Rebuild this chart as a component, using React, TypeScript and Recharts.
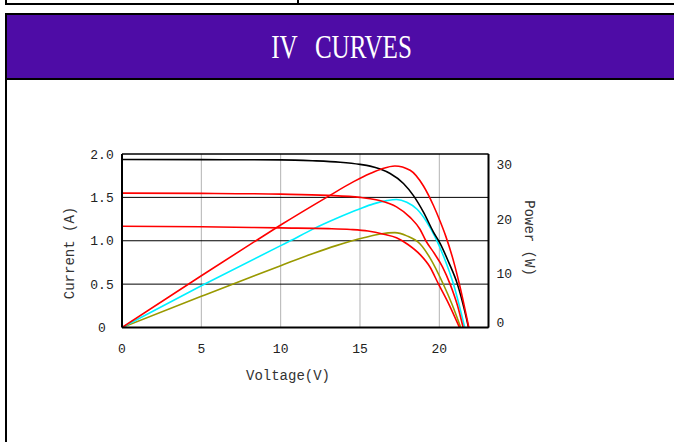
import React from "react";
import {
  CartesianGrid,
  Line,
  LineChart,
  ReferenceLine,
  XAxis,
  YAxis,
} from "recharts";

// [voltage (V), current (A)]
const ivHigh = [
  [0, 1.937], [5, 1.935], [10, 1.932], [12, 1.922], [13.75, 1.905], [15, 1.88],
  [15.64, 1.86], [16.27, 1.826], [16.9, 1.775], [17.74, 1.66], [18.37, 1.52],
  [19.0, 1.33], [19.63, 1.1], [20.05, 0.97], [20.58, 0.756], [21.14, 0.5],
  [21.56, 0.22], [21.84, 0],
];
const ivMid = [
  [0, 1.549], [5, 1.546], [10, 1.537], [12.95, 1.523], [15, 1.5], [15.64, 1.485],
  [16.3, 1.46], [17.3, 1.39], [18.16, 1.27], [18.79, 1.13], [19.15, 1.0], [19.7, 0.85],
  [20.2, 0.7], [20.68, 0.5], [21.15, 0.25], [21.5, 0],
];
const ivLow = [
  [0, 1.167], [5, 1.162], [10, 1.148], [13, 1.14], [14.4, 1.13], [15.5, 1.112],
  [16.5, 1.075], [17.3, 1.035], [18, 0.96], [18.79, 0.84], [19.4, 0.7], [19.95, 0.5],
  [20.6, 0.27], [21.27, 0],
];

// [voltage (V), power (W)]
const pwHigh = [
  [0, 0], [5, 9.55], [8.49, 16.1], [10, 18.9], [12.95, 24.1], [14.6, 26.9],
  [15.64, 28.4], [16.4, 29.3], [17.2, 29.8], [18.16, 29.0], [19.0, 26.1], [19.63, 22.5],
  [20.05, 19.6], [20.4, 16.9], [20.9, 12.2], [21.27, 7.93], [21.86, 0],
];
const pwMid = [
  [0, 0], [5, 7.7], [10, 15.1], [10.55, 15.9], [12, 18.1], [13.5, 20.1], [14.4, 21.2],
  [15, 21.9], [15.85, 22.8], [16.7, 23.4], [17.3, 23.6], [17.95, 23.1], [18.6, 21.8],
  [19.2, 19.5], [19.7, 16.9], [20.3, 12.9], [20.9, 7.93], [21.6, 0],
];
const pwLow = [
  [0, 0], [5, 5.75], [10, 11.4], [12, 13.6], [13.5, 15.1], [14.4, 15.9], [15.3, 16.6],
  [16.27, 17.25], [17.2, 17.5], [17.95, 16.9], [18.79, 15.4], [19.42, 12.8],
  [20.26, 7.93], [20.8, 4.3], [21.35, 0],
];

const voltTicks = [0, 5, 10, 15, 20];
const currentTicks = [0, 0.5, 1, 1.5, 2];
const powerTicks = [0, 10, 20, 30];

const W = 674;
const H = 442;
const PLOT_LEFT = 122;
const PLOT_RIGHT = 488.5;
const PLOT_TOP = 154;
const PLOT_BOTTOM = 327.5;
const Y_W = 40;
const X_H = 30;

const MONO = "'Liberation Mono', 'DejaVu Sans Mono', monospace";

const pts = (arr: number[][]) => arr.map(([v, y]) => ({ v, y }));

const fmtCurrent = (n: number) => (n === 0 ? "0" : n.toFixed(1));

const LeftTick = (p: any) => (
  <text
    x={PLOT_LEFT - 20}
    y={p.y}
    dy={4.5}
    textAnchor="middle"
    fontFamily={MONO}
    fontSize={13}
    fill="#222"
  >
    {fmtCurrent(p.payload.value)}
  </text>
);

const RightTick = (p: any) => (
  <text
    x={PLOT_RIGHT + 8}
    y={p.y}
    dy={p.payload.value === 0 ? -0.5 : 4.5}
    textAnchor="start"
    fontFamily={MONO}
    fontSize={13}
    fill="#222"
  >
    {p.payload.value}
  </text>
);

const BottomTick = (p: any) => (
  <text
    x={p.x}
    y={PLOT_BOTTOM + 25}
    textAnchor="middle"
    fontFamily={MONO}
    fontSize={13}
    fill="#222"
  >
    {p.payload.value}
  </text>
);

const axisTitle: React.CSSProperties = {
  position: "absolute",
  width: 140,
  height: 20,
  lineHeight: "20px",
  textAlign: "center",
  fontFamily: MONO,
  fontSize: 14,
  color: "#333",
  whiteSpace: "nowrap",
};

export default function App() {
  const lineProps = {
    type: "monotone" as const,
    dataKey: "y",
    dot: false,
    isAnimationActive: false,
    strokeWidth: 1.6,
  };

  return (
    <div
      style={{
        position: "absolute",
        left: 0,
        top: 0,
        width: W,
        height: H,
        overflow: "hidden",
        background: "#fff",
      }}
    >
      {/* row above */}
      <div
        style={{
          position: "absolute",
          left: 5,
          top: -30,
          width: 800,
          height: 35,
          boxSizing: "border-box",
          border: "2px solid #000",
        }}
      />
      <div style={{ position: "absolute", left: 297, top: 0, width: 2, height: 4, background: "#000" }} />

      {/* header */}
      <div
        style={{
          position: "absolute",
          left: 5,
          top: 13,
          width: 800,
          height: 67,
          boxSizing: "border-box",
          border: "2px solid #000",
          background: "#4e0ca6",
        }}
      />
      <div
        style={{
          position: "absolute",
          left: 242,
          top: 27,
          width: 200,
          height: 40,
          lineHeight: "40px",
          textAlign: "center",
          color: "#fff",
          fontFamily: "'Liberation Serif', serif",
          fontSize: 33,
        }}
      >
        <span style={{ display: "inline-block", transform: "scaleX(0.76)", wordSpacing: 15 }}>
          IV CURVES
        </span>
      </div>
      <div style={{ position: "absolute", left: 5, top: 80, width: 2, height: 400, background: "#000" }} />

      <div style={{ position: "absolute", left: 0, top: 0 }}>
        <LineChart
          width={W}
          height={H}
          margin={{
            top: PLOT_TOP,
            right: W - PLOT_RIGHT - Y_W,
            bottom: H - PLOT_BOTTOM - X_H,
            left: PLOT_LEFT - Y_W,
          }}
        >
          <CartesianGrid yAxisId="left" horizontal={false} stroke="#b4b4b4" />
          <CartesianGrid yAxisId="left" vertical={false} stroke="#000" />
          <XAxis
            type="number"
            dataKey="v"
            domain={[0, 23.1]}
            ticks={voltTicks}
            allowDataOverflow
            height={X_H}
            tickLine={false}
            axisLine={{ stroke: "#000", strokeWidth: 2 }}
            tick={BottomTick}
          />
          <YAxis
            yAxisId="left"
            type="number"
            domain={[0, 2]}
            ticks={currentTicks}
            allowDataOverflow
            width={Y_W}
            tickLine={false}
            axisLine={{ stroke: "#000", strokeWidth: 2 }}
            tick={LeftTick}
          />
          <YAxis
            yAxisId="right"
            orientation="right"
            type="number"
            domain={[0, 32]}
            ticks={powerTicks}
            allowDataOverflow
            width={Y_W}
            tickLine={false}
            axisLine={{ stroke: "#000", strokeWidth: 2 }}
            tick={RightTick}
          />
          <ReferenceLine yAxisId="left" y={2} stroke="#000" strokeWidth={1} />
          <Line {...lineProps} yAxisId="right" data={pts(pwLow)} stroke="#999900" />
          <Line {...lineProps} yAxisId="right" data={pts(pwMid)} stroke="#00f0ff" />
          <Line {...lineProps} yAxisId="left" data={pts(ivLow)} stroke="#ff0000" />
          <Line {...lineProps} yAxisId="left" data={pts(ivMid)} stroke="#ff0000" />
          <Line {...lineProps} yAxisId="left" data={pts(ivHigh)} stroke="#000" />
          <Line {...lineProps} yAxisId="right" data={pts(pwHigh)} stroke="#ff0000" />
        </LineChart>
      </div>

      <div style={{ ...axisTitle, left: 70 - 70, top: 253 - 10, transform: "rotate(-90deg)" }}>
        Current (A)
      </div>
      <div style={{ ...axisTitle, left: 529 - 70, top: 238 - 10, transform: "rotate(90deg)" }}>
        Power (W)
      </div>
      <div style={{ ...axisTitle, left: 288 - 70, top: 376 - 10 }}>Voltage(V)</div>
    </div>
  );
}
